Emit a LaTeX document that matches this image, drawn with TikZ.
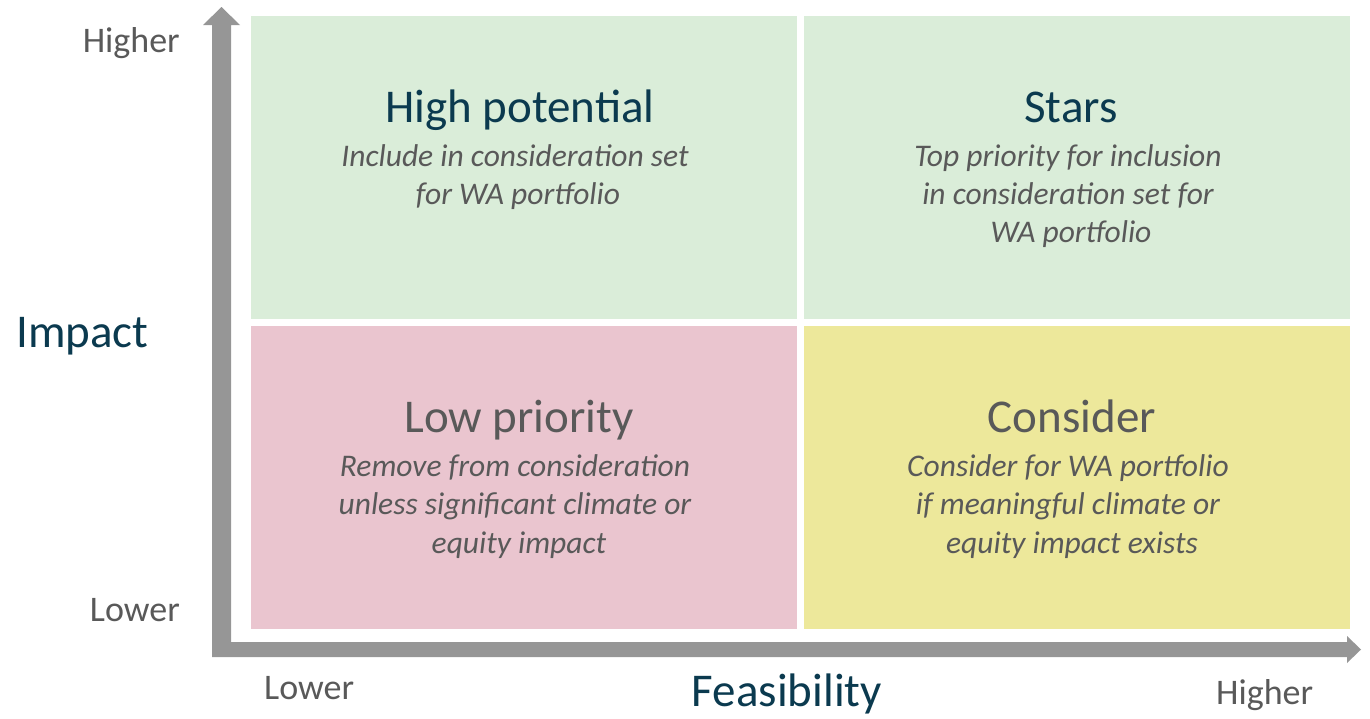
\documentclass[tikz,border=0pt]{standalone}
\usepackage{fontspec}
\setmainfont{Carlito}
\definecolor{qgreen}{HTML}{DAEDD9}
\definecolor{qpink}{HTML}{EAC5CF}
\definecolor{qyellow}{HTML}{EDE89B}
\definecolor{axisgray}{HTML}{969696}
\definecolor{titleteal}{HTML}{0B3A4F}
\definecolor{bodygray}{HTML}{595959}
\tikzset{
  quad/.style={draw=none, inner sep=0pt, anchor=north west},
  qtitle/.style={anchor=base, inner sep=0pt, text=titleteal, font=\fontsize{47}{56}\selectfont},
  qtitlegray/.style={anchor=base, inner sep=0pt, text=bodygray, font=\fontsize{47}{56}\selectfont},
  qbody/.style={anchor=base, inner sep=0pt, text=bodygray, font=\fontsize{31.5}{38}\selectfont\itshape},
  axlabel/.style={inner sep=0pt, text=bodygray, font=\fontsize{36}{42}\selectfont},
  axtitle/.style={inner sep=0pt, text=titleteal, font=\fontsize{47}{56}\selectfont},
}
\begin{document}
\begin{tikzpicture}[x=1pt, y=-1pt]
\useasboundingbox (0,0) rectangle (1370,718);
% quadrants
\node[quad, fill=qgreen, minimum width=546pt, minimum height=303pt] (hp) at (251,16) {};
\node[quad, fill=qgreen, minimum width=546pt, minimum height=303pt] (st) at (804,16) {};
\node[quad, fill=qpink, minimum width=546pt, minimum height=303pt] (lp) at (251,326) {};
\node[quad, fill=qyellow, minimum width=546pt, minimum height=303pt] (co) at (804,326) {};
% axes
\fill[axisgray] (212,657) -- (212,25) -- (203,25) -- (221.5,7) -- (240,25) -- (231,25)
  -- (231,642) -- (1347,642) -- (1347,636) -- (1361,649.5) -- (1347,663) -- (1347,657) -- cycle;
% texts top-left
\node[qtitle] (hpt) at (520,122) {High potential};
\node[qbody] (hp1) at (515,166) {Include in consideration set};
\node[qbody] (hp2) at (518,204) {for WA portfolio};
% top-right
\node[qtitle] (stt) at (1071,122) {Stars};
\node[qbody] (st1) at (1068,166) {Top priority for inclusion};
\node[qbody] (st2) at (1068,204) {in consideration set for};
\node[qbody] (st3) at (1071,242) {WA portfolio};
% bottom-left
\node[qtitlegray] (lpt) at (519,432) {Low priority};
\node[qbody] (lp1) at (515,476) {Remove from consideration};
\node[qbody] (lp2) at (515,514) {unless significant climate or};
\node[qbody] (lp3) at (519,553) {equity impact};
% bottom-right
\node[qtitlegray] (cot) at (1072,432) {Consider};
\node[qbody] (co1) at (1068,476) {Consider for WA portfolio};
\node[qbody] (co2) at (1068,514) {if meaningful climate or};
\node[qbody] (co3) at (1072,553) {equity impact exists};
% axis labels
\node[axlabel, anchor=base east] (yhi) at (180,52) {Higher};
\node[axlabel, anchor=base east] (ylo) at (180,621) {Lower};
\node[axtitle, anchor=base west] (yt) at (16,347) {Impact};
\node[axlabel, anchor=base west] (xlo) at (264,699) {Lower};
\node[axlabel, anchor=base west] (xhi) at (1216,704) {Higher};
\node[axtitle, anchor=base] (xt) at (787,706) {Feasibility};
\end{tikzpicture}
\end{document}
